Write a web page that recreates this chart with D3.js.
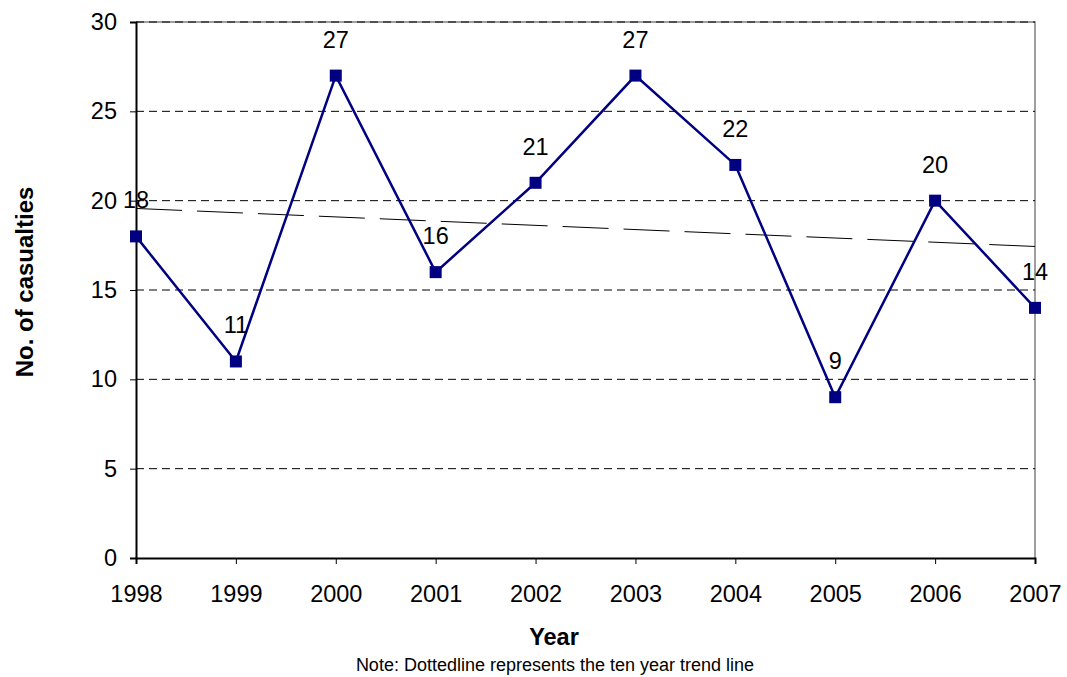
<!DOCTYPE html>
<html>
<head>
<meta charset="utf-8">
<script src="https://cdn.jsdelivr.net/npm/d3@7"></script>
<style>
  body { margin: 0; background: #fff; }
  svg { display: block; }
</style>
</head>
<body>
<div id="chart"></div>
<script>
// Chart data
const years = [1998, 1999, 2000, 2001, 2002, 2003, 2004, 2005, 2006, 2007];
const casualties = [18, 11, 27, 16, 21, 27, 22, 9, 20, 14];
const yTicks = [0, 5, 10, 15, 20, 25, 30];

const W = 1067, H = 677;
const margin = {top: 22, right: 32, bottom: 119, left: 136};
const width = W - margin.left - margin.right;
const height = H - margin.top - margin.bottom;

const svg = d3.select("#chart")
    .append("svg")
    .attr("width", W)
    .attr("height", H)
    .style("font-family", "'Liberation Sans', Arial, sans-serif");

const g = svg.append("g")
    .attr("transform", `translate(${margin.left},${margin.top})`);

const x = d3.scaleLinear()
    .domain(d3.extent(years))
    .range([0, width]);

const y = d3.scaleLinear()
    .domain([0, 30])
    .range([height, 0]);

// Plot area border (top and right, grey)
g.append("path")
    .attr("d", `M0,0H${width}V${height}`)
    .attr("fill", "none")
    .attr("stroke", "#808080")
    .attr("stroke-width", 1.5);

// Dashed gridlines
g.selectAll(".grid")
    .data(yTicks.filter(d => d > 0))
    .enter()
    .append("line")
    .attr("class", "grid")
    .attr("x1", 0)
    .attr("x2", width)
    .attr("y1", d => y(d))
    .attr("y2", d => y(d))
    .attr("stroke", "#000")
    .attr("stroke-width", 1)
    .attr("stroke-dasharray", "8,5");

// Y axis
const yAxis = g.append("g")
    .call(d3.axisLeft(y).tickValues(yTicks).tickSize(6).tickPadding(13));
yAxis.select(".domain").attr("stroke", "#000").attr("stroke-width", 2);
yAxis.selectAll(".tick line").attr("stroke", "#000").attr("stroke-width", 1);
yAxis.selectAll(".tick text")
    .attr("font-size", 23.5)
    .attr("fill", "#000");

// X axis
const xAxis = g.append("g")
    .attr("transform", `translate(0,${height})`)
    .call(d3.axisBottom(x).tickValues(years).tickFormat(d3.format("d")).tickSize(6).tickPadding(21));
xAxis.select(".domain").attr("stroke", "#000").attr("stroke-width", 2);
xAxis.selectAll(".tick line").attr("stroke", "#000").attr("stroke-width", 1);
xAxis.selectAll(".tick text")
    .attr("font-size", 23.5)
    .attr("fill", "#000");

// Trend line (least squares over the ten years)
function linearRegression(xs, ys) {
    const n = xs.length;
    const mx = d3.mean(xs), my = d3.mean(ys);
    let sxy = 0, sxx = 0;
    for (let i = 0; i < n; i++) {
        sxy += (xs[i] - mx) * (ys[i] - my);
        sxx += (xs[i] - mx) * (xs[i] - mx);
    }
    const slope = sxy / sxx;
    return {slope, intercept: my - slope * mx};
}
const lr = linearRegression(years, casualties);
const x0 = years[0], x1 = years[years.length - 1];

g.append("line")
    .attr("x1", x(x0))
    .attr("y1", y(lr.slope * x0 + lr.intercept))
    .attr("x2", x(x1))
    .attr("y2", y(lr.slope * x1 + lr.intercept))
    .attr("stroke", "#000")
    .attr("stroke-width", 1)
    .attr("stroke-dasharray", "46,15");

// Data series
const data = years.map((yr, i) => ({year: yr, value: casualties[i]}));

g.append("path")
    .datum(data)
    .attr("fill", "none")
    .attr("stroke", "#000080")
    .attr("stroke-width", 2.5)
    .attr("d", d3.line().x(d => x(d.year)).y(d => y(d.value)));

g.selectAll(".marker")
    .data(data)
    .enter()
    .append("rect")
    .attr("class", "marker")
    .attr("x", d => x(d.year) - 6)
    .attr("y", d => y(d.value) - 6)
    .attr("width", 12)
    .attr("height", 12)
    .attr("fill", "#000080");

g.selectAll(".label")
    .data(data)
    .enter()
    .append("text")
    .attr("class", "label")
    .attr("x", d => x(d.year))
    .attr("y", d => y(d.value) - 28)
    .attr("text-anchor", "middle")
    .attr("font-size", 23.5)
    .attr("fill", "#000")
    .text(d => d.value);

// Axis titles
svg.append("text")
    .attr("x", 554)
    .attr("y", 645)
    .attr("text-anchor", "middle")
    .attr("font-size", 23.5)
    .attr("font-weight", "bold")
    .text("Year");

svg.append("text")
    .attr("transform", "translate(33,282) rotate(-90)")
    .attr("text-anchor", "middle")
    .attr("font-size", 24)
    .attr("font-weight", "bold")
    .text("No. of casualties");

svg.append("text")
    .attr("x", 555)
    .attr("y", 671)
    .attr("text-anchor", "middle")
    .attr("font-size", 18)
    .text("Note: Dottedline represents the ten year trend line");
</script>
</body>
</html>
